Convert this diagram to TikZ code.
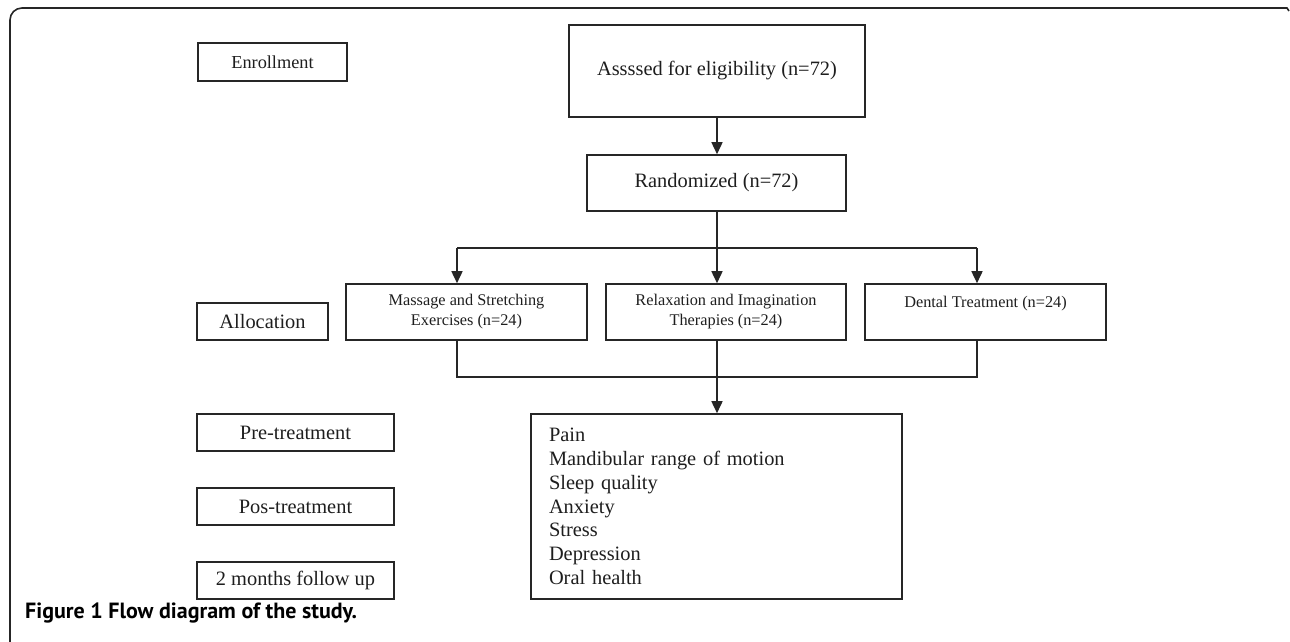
\documentclass[tikz,border=0pt]{standalone}
\usepackage{fontspec}
\setmainfont{Liberation Serif}
\newfontfamily\capfont{PT Sans}
\usetikzlibrary{arrows.meta}
\definecolor{ln}{HTML}{262626}
\definecolor{tx}{HTML}{1E1E1E}
\begin{document}
\begin{tikzpicture}[x=1pt,y=-1pt,
  box/.style={draw=ln, line width=1.6pt, inner sep=0pt, align=center, text=tx, font=\fontsize{20.4}{24}\selectfont},
  sbox/.style={box, font=\fontsize{16.3}{20}\selectfont},
  arr/.style={draw=ln, line width=1.6pt, -{Triangle[length=12pt,width=11pt]}},
  con/.style={draw=ln, line width=1.6pt},
  frame/.style={draw=ln, line width=1.6pt}]
\useasboundingbox (0,0) rectangle (1290,642);
% outer frame
\draw[frame, rounded corners=12pt] (10,642) -- (10,8) -- (600,8);
\draw[frame] (600,8) -- (1287,8) -- (1289,11);
% stage labels
\node[box, minimum width=149, minimum height=38, font=\fontsize{18.3}{22}\selectfont] (enr) at (272.5,62) {Enrollment};
\node[box, minimum width=131, minimum height=37] (all) at (262.5,321.5) {Allocation};
\node[box, minimum width=197, minimum height=37] (pre) at (295.5,432.5) {Pre-treatment};
\node[box, minimum width=197, minimum height=37] (pos) at (295.5,506.5) {Pos-treatment};
\node[box, minimum width=197, minimum height=37] (fol) at (295.5,580.5) {2 months follow up};
% flow
\node[box, minimum width=296, minimum height=92] (ass) at (717,71) {Assssed for eligibility (n=72)};
\node[box, minimum width=259, minimum height=56] (ran) at (716.5,183) {Randomized (n=72)};
\node[sbox, minimum width=241, minimum height=56] (mas) at (466.5,312) {Massage and Stretching\\Exercises (n=24)};
\node[sbox, minimum width=240, minimum height=56] (rel) at (726,312) {Relaxation and Imagination\\Therapies (n=24)};
\node[sbox, minimum width=241, minimum height=56] (den) at (985.5,312) {Dental Treatment (n=24)\\\mbox{}};
\node[box, minimum width=371, minimum height=185, text width=335, align=left,
      font=\fontsize{20.4}{23.8}\selectfont] (out) at (716.5,506.5)
  {Pain\\Mandibular range of motion\\Sleep quality\\Anxiety\\Stress\\Depression\\Oral health};
% caption
\node[anchor=west, inner sep=0pt, text=black, font=\capfont\bfseries\fontsize{22}{26}\selectfont] (cap) at (25,613) {Figure 1 Flow diagram of the study.};
% connectors
\coordinate (jl) at (457,248);
\coordinate (jm) at (717,248);
\coordinate (jr) at (977,248);
\coordinate (kl) at (457,377);
\coordinate (km) at (717,377);
\coordinate (kr) at (977,377);
\draw[arr] (ass.south) -- (ass.south |- ran.north);
\draw[con] (jm |- ran.south) -- (jm);
\draw[con] (jl) -- (jr);
\draw[arr] (jl) -- (jl |- mas.north);
\draw[arr] (jm) -- (jm |- rel.north);
\draw[arr] (jr) -- (jr |- den.north);
\draw[con] (kl |- mas.south) -- (kl) -- (kr) -- (kr |- den.south);
\draw[arr] (km |- rel.south) -- (km |- out.north);
\end{tikzpicture}
\end{document}
